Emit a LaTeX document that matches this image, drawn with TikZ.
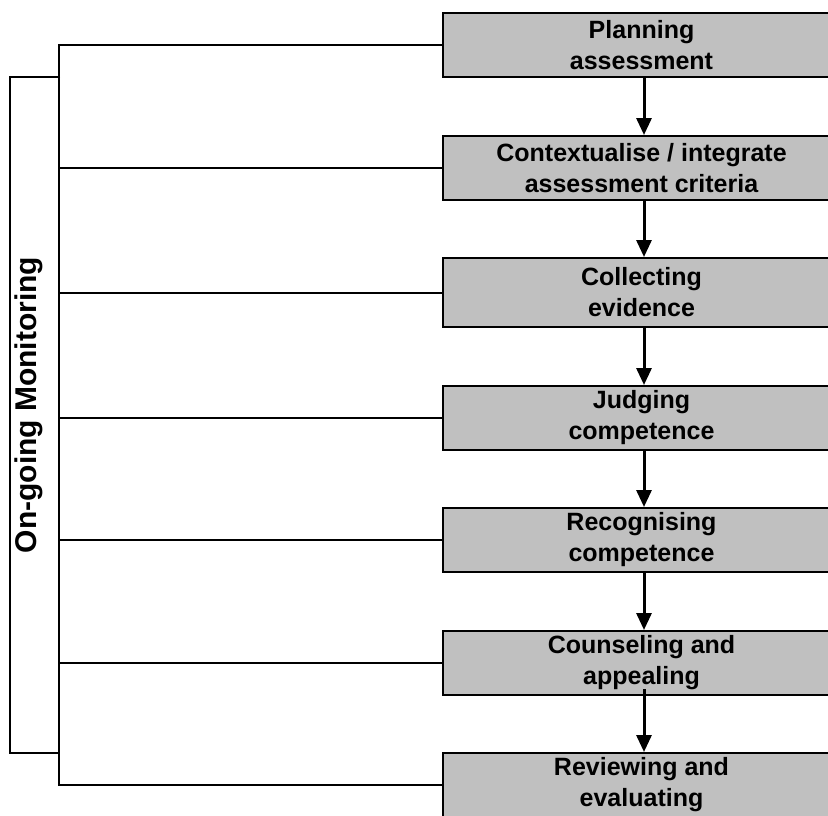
\documentclass[tikz,border=0pt]{standalone}
\usepackage{fontspec}
\setmainfont{Liberation Sans}
\usetikzlibrary{arrows.meta}
\definecolor{boxgray}{RGB}{192,192,192}
\begin{document}
\begin{tikzpicture}[x=1pt,y=-1pt,
  stagebox/.style={draw=black,line width=2pt,fill=boxgray,
    minimum width=397pt,minimum height=64pt,inner sep=0pt,
    align=center,font=\bfseries\fontsize{25}{31}\selectfont},
  link/.style={line width=2pt},
  flow/.style={line width=3pt,-{Triangle[width=15pt,length=17pt]}}]
\useasboundingbox (0,0) rectangle (828,815);
% process stages
\node[stagebox] (b1) at (641.5,45) {Planning\\assessment};
\node[stagebox] (b2) at (641.5,168) {Contextualise / integrate\\assessment criteria};
\node[stagebox,minimum height=69pt] (b3) at (641.5,292.5) {Collecting\\evidence};
\node[stagebox] (b4) at (641.5,418) {Judging\\competence};
\node[stagebox] (b5) at (641.5,540) {Recognising\\competence};
\node[stagebox] (b6) at (641.5,663) {Counseling and\\appealing};
\node[stagebox] (b7) at (641.5,785) {Reviewing and\\evaluating};
% flow between stages
\coordinate (ax) at (644,0);
\draw[flow] (b1.south -| ax) -- (b2.north -| ax);
\draw[flow] (b2.south -| ax) -- (b3.north -| ax);
\draw[flow] (b3.south -| ax) -- (b4.north -| ax);
\draw[flow] (b4.south -| ax) -- (b5.north -| ax);
\draw[flow] (b5.south -| ax) -- (b6.north -| ax);
\draw[flow] ([yshift=7pt]b6.south -| ax) -- (b7.north -| ax);
% monitoring spine
\coordinate (sp) at (59,0);
\draw[link] (b1.west) -- (b1.west -| sp) -- (b7.west -| sp) -- (b7.west);
\foreach \n in {b2,b3,b4,b5,b6}
  \draw[link] (\n.west) -- (\n.west -| sp);
% monitoring bracket
\coordinate (mt) at (60,77);
\coordinate (mb) at (60,753);
\draw[link] (mt) -- (10,77) -- (10,753) -- (mb);
\node[rotate=90,anchor=base,font=\bfseries\fontsize{30}{36}\selectfont] (mon) at (36,405) {On-going Monitoring};
\end{tikzpicture}
\end{document}
